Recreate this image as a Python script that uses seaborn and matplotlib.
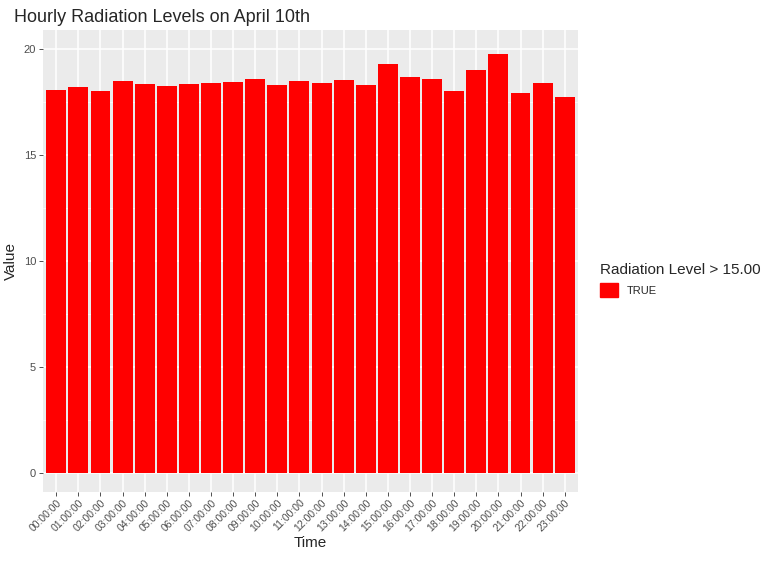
import matplotlib
matplotlib.use("Agg")
import matplotlib.pyplot as plt
import seaborn as sns
import pandas as pd
from matplotlib.patches import Patch

times = [f"{h:02d}:00:00" for h in range(24)]
values = [18.08, 18.2, 18.0, 18.5, 18.35, 18.25, 18.35, 18.4, 18.45, 18.6, 18.3, 18.5,
          18.4, 18.55, 18.3, 19.3, 18.7, 18.6, 18.0, 19.0, 19.75, 17.95, 18.4, 17.75]
df = pd.DataFrame({"Time": times, "Value": values})

sns.set_theme(style="darkgrid", rc={"axes.facecolor": "#EBEBEB", "grid.color": "white",
                                    "xtick.bottom": True, "ytick.left": True})
plt.rcParams['font.family'] = ['Liberation Sans', 'DejaVu Sans']
fig = plt.figure(figsize=(7.71, 5.66), dpi=100)
ax = fig.add_axes([43/771, 1-492/566, (578-43)/771, (492-30)/566])
sns.barplot(data=df, x="Time", y="Value", color="#FF0000", saturation=1, width=0.9,
            linewidth=0, ax=ax)
ax.set_ylim(-0.9, 20.9)
ax.set_xlim(-0.6, 23.6)
ax.set_yticks([0, 5, 10, 15, 20])
ax.set_yticks([2.5, 7.5, 12.5, 17.5], minor=True)
ax.tick_params(axis="y", which="minor", length=0)
ax.grid(which="minor", color="white", linewidth=0.5)
ax.grid(which="major", color="white", linewidth=1.1)
ax.set_axisbelow(True)
for s in ax.spines.values():
    s.set_visible(False)
ax.tick_params(axis="x", which="major", labelrotation=45, labelsize=7.5, colors="#333333",
               labelcolor="#4D4D4D", length=3, width=0.6, pad=1)
ax.tick_params(axis="y", which="major", labelsize=8, colors="#333333",
               labelcolor="#4D4D4D", length=3, width=0.6, pad=2)
for l in ax.get_xticklabels():
    l.set_ha("right"); l.set_rotation_mode("anchor")
ax.set_xlabel("Time", fontsize=11, labelpad=2)
ax.set_ylabel("Value", fontsize=11, labelpad=4)
ax.set_title("Hourly Radiation Levels on April 10th", fontsize=13, loc="left", x=-0.055)
fig.legend(handles=[Patch(color="#FF0000", label="TRUE")], title="Radiation Level > 15.00",
           loc="center left", bbox_to_anchor=(590/771, 0.505), frameon=False,
           fontsize=8, title_fontsize=11, handlelength=1.6, handleheight=1.6,
           alignment="left")
fig.savefig("out.png", dpi=100)
